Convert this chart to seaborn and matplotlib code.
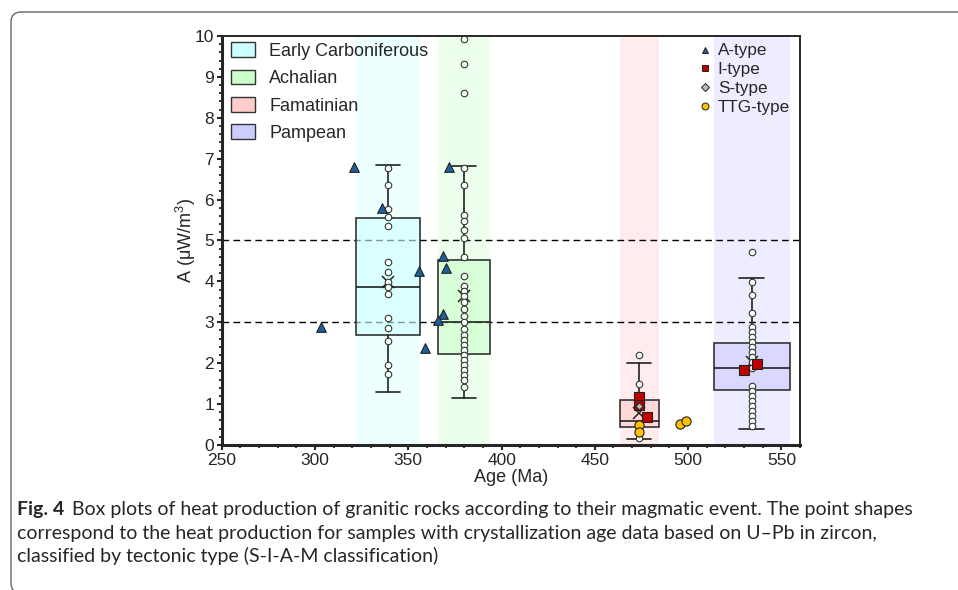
import matplotlib
matplotlib.use("Agg")
import matplotlib.pyplot as plt
import pandas as pd
import seaborn as sns
from matplotlib.lines import Line2D
from matplotlib.patches import FancyBboxPatch, Patch
from matplotlib.ticker import MultipleLocator
from matplotlib.transforms import IdentityTransform

# magmatic events (age ranges in Ma)
events = ["Early Carboniferous", "Achalian", "Famatinian", "Pampean"]
event_colors = ["#ccffff", "#ccffcc", "#ffcccc", "#ccccff"]
event_start = [321.8, 365.7, 463.3, 513.7]
event_end = [356.2, 393.7, 484.3, 554.4]

# box statistics
box_low = [1.30, 1.14, 0.14, 0.38]
box_q1 = [2.69, 2.23, 0.43, 1.34]
box_med = [3.87, 3.01, 0.59, 1.87]
box_q3 = [5.56, 4.52, 1.09, 2.50]
box_high = [6.85, 6.82, 2.00, 4.08]
box_mean = [3.99, 3.65, 0.77, 2.04]

# heat production of samples in each event
early_values = [6.77, 6.36, 5.76, 5.57, 5.35, 4.47, 4.22, 3.99, 3.87, 3.68,
                3.10, 2.85, 2.55, 1.96, 1.74]
achalian_values = [9.92, 9.32, 8.61, 6.77, 6.36, 5.62, 5.48, 5.26, 5.05, 4.60,
                   4.14, 3.89, 3.77, 3.65, 3.50, 3.32, 3.16, 3.00, 2.84, 2.69,
                   2.57, 2.45, 2.32, 2.20, 2.08, 1.96, 1.83, 1.71, 1.59, 1.41]
famatinian_values = [2.21, 1.49, 1.18, 0.95, 0.49, 0.31, 0.16]
pampean_values = [4.72, 3.98, 3.67, 3.22, 2.88, 2.76, 2.63, 2.51, 2.39, 2.27,
                  2.14, 2.02, 1.88, 1.45, 1.32, 1.20, 1.08, 0.95, 0.83, 0.71,
                  0.59, 0.46]

# dated samples by tectonic type
a_age = [321.0, 335.7, 355.8, 303.0, 359.1, 371.8, 368.7, 370.0, 368.7, 365.7]
a_heat = [6.79, 5.79, 4.26, 2.89, 2.38, 6.79, 4.62, 4.32, 3.20, 3.06]
i_age = [473.7, 473.7, 477.9, 530.0, 537.0]
i_heat = [1.18, 0.97, 0.69, 1.83, 1.97]
s_age = [473.7]
s_heat = [0.95]
ttg_age = [473.7, 473.7, 495.5, 498.9]
ttg_heat = [0.49, 0.31, 0.51, 0.59]

caption_lines = [
    "Box plots of heat production of granitic rocks according to their magmatic event. The point shapes",
    "correspond to the heat production for samples with crystallization age data based on U\u2013Pb in zircon,",
    "classified by tectonic type (S-I-A-M classification)",
]

sns.set_style("ticks")
plt.rcParams["font.family"] = ["Liberation Sans", "DejaVu Sans"]
plt.rcParams["mathtext.fontset"] = "custom"
plt.rcParams["mathtext.rm"] = "Liberation Sans"

mids = [(s + e) / 2 for s, e in zip(event_start, event_end)]
widths = [e - s for s, e in zip(event_start, event_end)]
values = [early_values, achalian_values, famatinian_values, pampean_values]

samples = pd.DataFrame(
    [(ev, m, v) for ev, m, vals in zip(events, mids, values) for v in vals],
    columns=["event", "age", "heat"],
)
dated = pd.concat([
    pd.DataFrame({"type": "A-type", "age": a_age, "heat": a_heat}),
    pd.DataFrame({"type": "I-type", "age": i_age, "heat": i_heat}),
    pd.DataFrame({"type": "S-type", "age": s_age, "heat": s_heat}),
    pd.DataFrame({"type": "TTG-type", "age": ttg_age, "heat": ttg_heat}),
])
type_style = {
    "A-type": dict(marker="^", color="#1f5f9e", s=48),
    "I-type": dict(marker="s", color="#c00000", s=42),
    "S-type": dict(marker="D", color="#bdbdbd", s=14),
    "TTG-type": dict(marker="o", color="#ffc000", s=44),
}

fig = plt.figure(figsize=(9.58, 5.90), dpi=100)
ax = fig.add_axes([0.2315, 0.2458, 0.6036, 0.6932])

for s, e, c in zip(event_start, event_end, event_colors):
    ax.axvspan(s, e, color=c, alpha=0.35, lw=0, zorder=0)

for y in (3, 5):
    ax.axhline(y, color="black", lw=1.0, ls=(0, (4.8, 3.1)), zorder=1)

stats = [
    dict(whislo=lo, q1=q1, med=md, q3=q3, whishi=hi, mean=mn, fliers=[])
    for lo, q1, md, q3, hi, mn in zip(box_low, box_q1, box_med, box_q3, box_high, box_mean)
]
bp = ax.bxp(
    stats, positions=mids, widths=widths, capwidths=13, patch_artist=True,
    showmeans=True, showfliers=False, manage_ticks=False,
    boxprops=dict(edgecolor="#333333", lw=1.2),
    medianprops=dict(color="#222222", lw=1.2),
    whiskerprops=dict(color="#222222", lw=1.2),
    capprops=dict(color="#222222", lw=1.2),
    meanprops=dict(marker="x", markeredgecolor="#222222", markersize=8, markeredgewidth=1.1),
    zorder=2,
)
for patch, c in zip(bp["boxes"], event_colors):
    patch.set_facecolor(matplotlib.colors.to_rgba(c, 0.6))

sns.scatterplot(data=samples, x="age", y="heat", ax=ax, marker="o", s=22,
                facecolor="white", edgecolor="#2e3a2e", linewidth=0.8, zorder=3, legend=False)
for t, grp in dated.groupby("type"):
    st = type_style[t]
    sns.scatterplot(data=grp, x="age", y="heat", ax=ax, marker=st["marker"], s=st["s"],
                    color=st["color"], edgecolor="#222222", linewidth=0.8, zorder=4, legend=False)

ax.set_xlim(250, 560)
ax.set_ylim(0, 10)
ax.xaxis.set_major_locator(MultipleLocator(50))
ax.xaxis.set_minor_locator(MultipleLocator(10))
ax.yaxis.set_major_locator(MultipleLocator(1))
ax.yaxis.set_minor_locator(MultipleLocator(0.2))
ax.tick_params(which="major", direction="out", length=3.5, width=1.5, labelsize=12.5, pad=2)
ax.tick_params(which="minor", direction="out", length=2, width=1.3)
for side in ("left", "bottom"):
    ax.spines[side].set_linewidth(2.2)
for side in ("top", "right"):
    ax.spines[side].set_linewidth(1.4)
    ax.spines[side].set_visible(True)
ax.set_xlabel("Age (Ma)", fontsize=13, labelpad=1)
ax.set_ylabel(r"A (μW/m$^3$)", fontsize=13)
ax.yaxis.set_label_coords(-0.041, 0.5)

ev_handles = [Patch(facecolor=c, edgecolor="#333333", lw=1.0, label=n)
              for n, c in zip(events, event_colors)]
leg1 = ax.legend(handles=ev_handles, loc="upper left", bbox_to_anchor=(9 / 578, 1 - 6.5 / 409),
                 frameon=False, fontsize=13, borderpad=0, borderaxespad=0,
                 handlelength=1.33, handleheight=0.87, labelspacing=0.54, handletextpad=0.8)
ax.add_artist(leg1)
type_handles = [Line2D([], [], ls="none", marker=type_style[t]["marker"],
                       markerfacecolor=type_style[t]["color"], markeredgecolor="#222222",
                       markeredgewidth=0.7, markersize=5 if t != "S-type" else 4, label=t)
                for t in type_style]
ax.legend(handles=type_handles, loc="upper left", bbox_to_anchor=((699 - 222) / 578, 1 - 7.5 / 409),
          frameon=False, fontsize=12.3, borderpad=0, borderaxespad=0,
          handlelength=0.7, labelspacing=0.22, handletextpad=0.4)

# caption frame and text
frame = FancyBboxPatch((11, -3), 1000, 581, boxstyle="round,pad=0,rounding_size=10",
                       transform=IdentityTransform(), fill=False, edgecolor="#666666", lw=1.0)
fig.add_artist(frame)
cap_font = ["Lato", "DejaVu Sans"]
cap_size = 12
fig_label = fig.text(17 / 958, 1 - 510 / 590, "Fig. 4", fontsize=cap_size, fontweight="bold",
                     family=cap_font, va="center")
cap_texts = [
    fig.text(72 / 958, 1 - 510 / 590, caption_lines[0], fontsize=cap_size, family=cap_font, va="center"),
    fig.text(17 / 958, 1 - 533 / 590, caption_lines[1], fontsize=cap_size, family=cap_font, va="center"),
    fig.text(17 / 958, 1 - 556 / 590, caption_lines[2], fontsize=cap_size, family=cap_font, va="center"),
]
# fit the first caption line to the width it has in the original
renderer = fig.canvas.get_renderer()
scale = (908 - 72) / cap_texts[0].get_window_extent(renderer).width
for t in cap_texts + [fig_label]:
    t.set_fontsize(cap_size * scale)

fig.savefig("out.png", dpi=100)
